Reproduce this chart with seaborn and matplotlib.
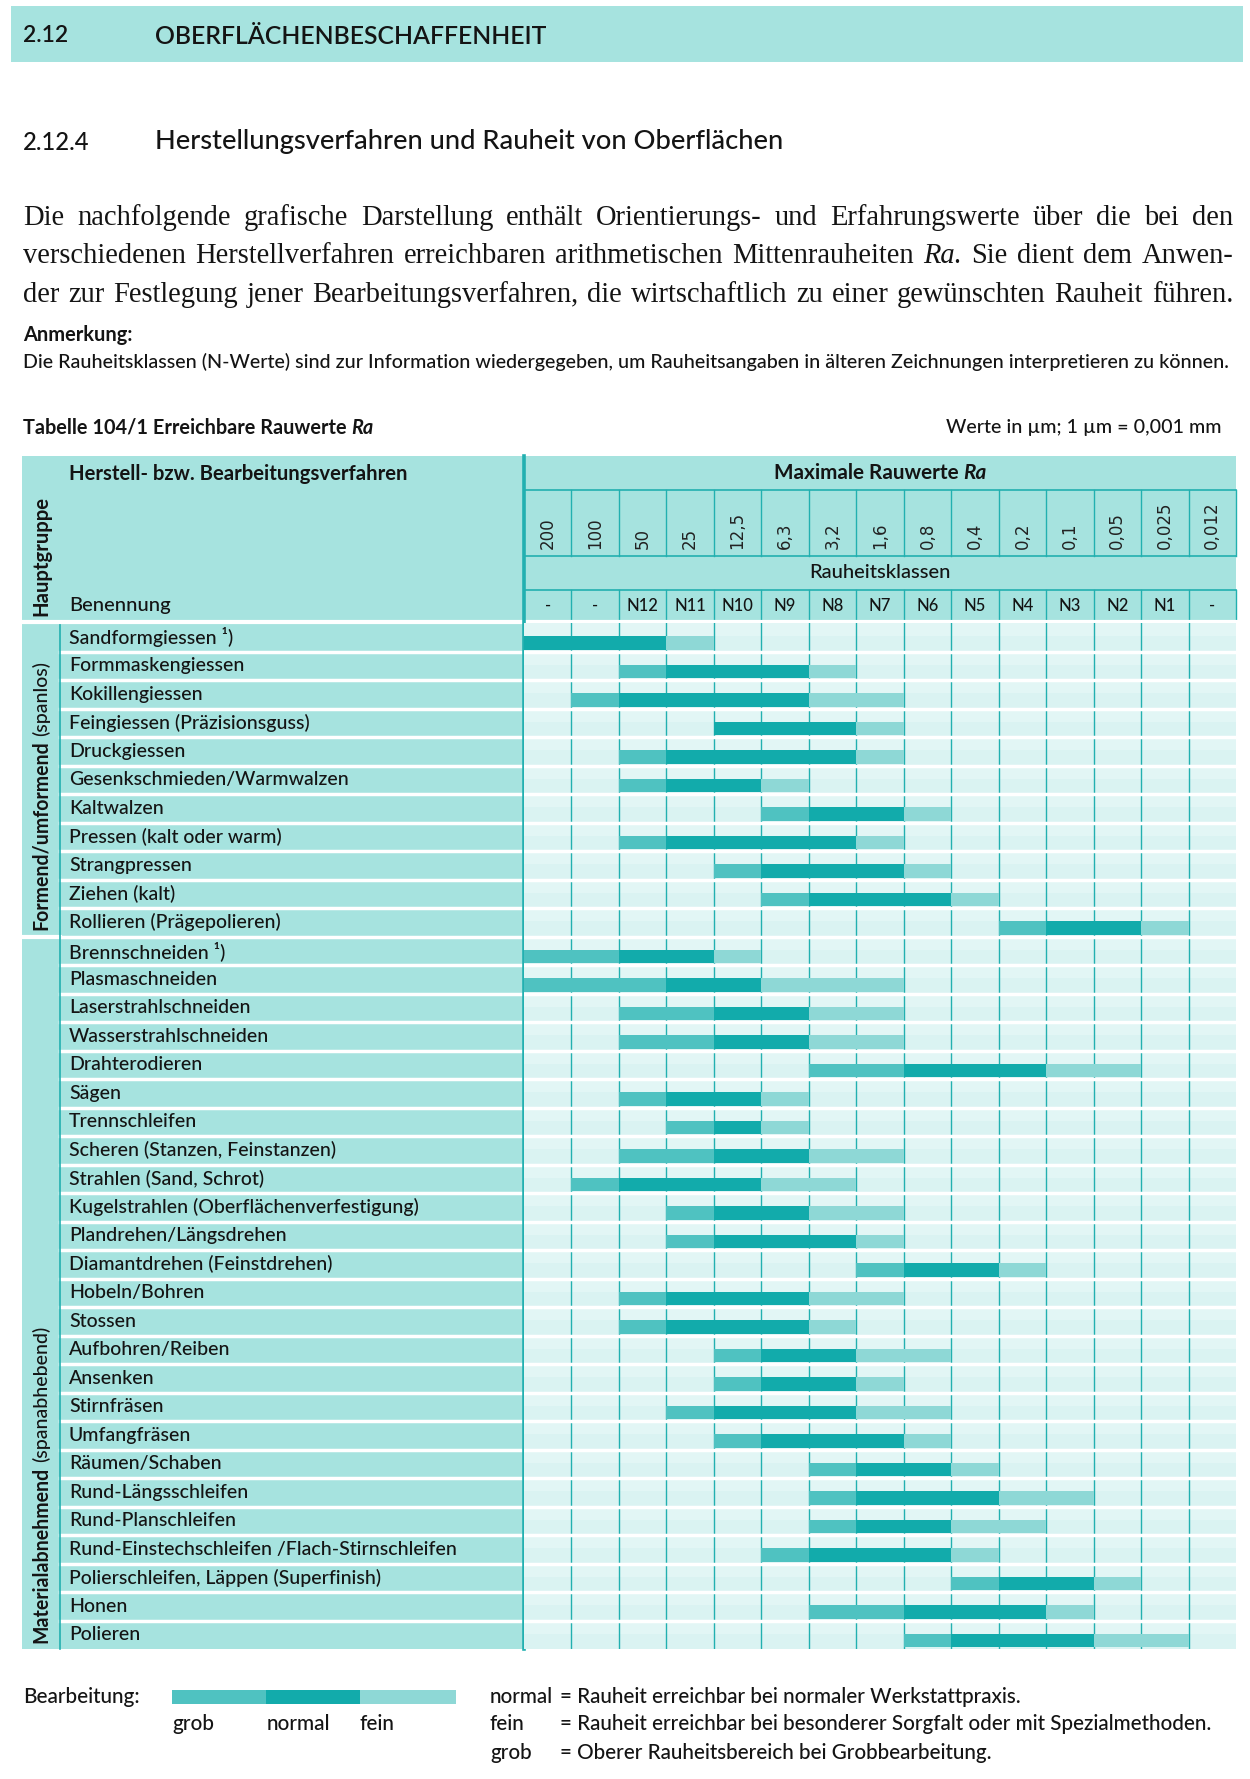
import numpy as np
import pandas as pd
import matplotlib
matplotlib.use('Agg')
import matplotlib.pyplot as plt
import matplotlib.transforms as mtransforms
from matplotlib.patches import Rectangle
import seaborn as sns

# Spalten: maximale Rauwerte Ra (µm) und Rauheitsklassen
ra_werte = ['200', '100', '50', '25', '12,5', '6,3', '3,2', '1,6', '0,8', '0,4',
            '0,2', '0,1', '0,05', '0,025', '0,012']
n_klassen = ['-', '-', 'N12', 'N11', 'N10', 'N9', 'N8', 'N7', 'N6', 'N5',
             'N4', 'N3', 'N2', 'N1', '-']

verfahren = [
    'Sandformgiessen ¹)', 'Formmaskengiessen', 'Kokillengiessen',
    'Feingiessen (Präzisionsguss)', 'Druckgiessen', 'Gesenkschmieden/Warmwalzen',
    'Kaltwalzen', 'Pressen (kalt oder warm)', 'Strangpressen', 'Ziehen (kalt)',
    'Rollieren (Prägepolieren)',
    'Brennschneiden ¹)', 'Plasmaschneiden', 'Laserstrahlschneiden',
    'Wasserstrahlschneiden', 'Drahterodieren', 'Sägen', 'Trennschleifen',
    'Scheren (Stanzen, Feinstanzen)', 'Strahlen (Sand, Schrot)',
    'Kugelstrahlen (Oberflächenverfestigung)', 'Plandrehen/Längsdrehen',
    'Diamantdrehen (Feinstdrehen)', 'Hobeln/Bohren', 'Stossen',
    'Aufbohren/Reiben', 'Ansenken', 'Stirnfräsen', 'Umfangfräsen',
    'Räumen/Schaben', 'Rund-Längsschleifen', 'Rund-Planschleifen',
    'Rund-Einstechschleifen /Flach-Stirnschleifen',
    'Polierschleifen, Läppen (Superfinish)', 'Honen', 'Polieren',
]

# Hauptgruppen (Anzahl Zeilen je Gruppe)
gruppen = ['Formend/umformend', 'Materialabnehmend']
gruppen_zusatz = ['(spanlos)', '(spanabhebend)']
gruppen_anzahl = [11, 25]

# Bereiche als Spaltenindex (0 = Spalte "200", 15 = rechter Rand)
grob_von = [0, 2, 1, 4, 2, 2, 5, 2, 4, 5, 10,
            0, 0, 2, 2, 6, 2, 3, 2, 1, 3, 3, 7, 2, 2, 4, 4, 3, 4, 6, 6, 6, 5, 9, 6, 8]
normal_von = [0, 3, 2, 4, 3, 3, 6, 3, 5, 6, 11,
              2, 3, 4, 4, 8, 3, 4, 4, 2, 4, 4, 8, 3, 3, 5, 5, 4, 5, 7, 7, 7, 6, 10, 8, 9]
fein_von = [3, 6, 6, 7, 7, 5, 8, 7, 8, 9, 13,
            4, 5, 6, 6, 11, 5, 5, 6, 5, 6, 7, 10, 6, 6, 7, 7, 7, 8, 9, 10, 9, 9, 12, 11, 12]
fein_bis = [4, 7, 8, 8, 8, 6, 9, 8, 9, 10, 14,
            5, 8, 8, 8, 13, 6, 6, 8, 7, 8, 8, 11, 8, 7, 9, 8, 9, 9, 10, 12, 11, 10, 13, 12, 14]

# Farben
C_MID = '#a6e3df'
C_LIGHT = '#daf3f2'
C_LIGHT_TOP = '#e2f6f5'
C_NORMAL = '#12abab'
C_GROB = '#4fc2c1'
C_FEIN = '#8ed8d6'
C_LINE = '#22b0b0'
C_TEXT = '#141414'

SANS = ['Lato', 'Open Sans', 'DejaVu Sans']
SERIF = ['Liberation Serif', 'DejaVu Serif']
plt.rcParams['font.family'] = SANS
plt.rcParams['text.color'] = C_TEXT

W, H = 1250, 1779
fig = plt.figure(figsize=(W / 100, H / 100), dpi=100)
fig.patch.set_facecolor('white')
bg = fig.add_axes([0, 0, 1, 1])
bg.set_xlim(0, W)
bg.set_ylim(H, 0)
bg.axis('off')
renderer = fig.canvas.get_renderer()

# Raster der Rauwerte
GX0, GX1 = 524, 1236
GY0, GY1 = 623, 1649
TY0 = 456
n = len(verfahren)
ax = fig.add_axes([GX0 / W, 1 - GY1 / H, (GX1 - GX0) / W, (GY1 - GY0) / H])

BAR_H = 0.47
OFF = 0.705  # Abstand Balkenmitte -> Zeilenoberkante

df = pd.DataFrame({
    'verfahren': verfahren,
    'grob_von': grob_von, 'normal_von': normal_von,
    'fein_von': fein_von, 'fein_bis': fein_bis,
})
df['grob'] = df['normal_von'] - df['grob_von']
df['normal'] = df['fein_von'] - df['normal_von']
df['fein'] = df['fein_bis'] - df['fein_von']

for seg, start, color in [('grob', 'grob_von', C_GROB),
                          ('normal', 'normal_von', C_NORMAL),
                          ('fein', 'fein_von', C_FEIN)]:
    sns.barplot(data=df, x=seg, y='verfahren', order=verfahren, orient='h',
                left=df[start].to_numpy(), width=BAR_H, color=color,
                saturation=1, errorbar=None, linewidth=0, zorder=3, ax=ax)

ax.set_xlim(0, 15)
ax.set_ylim(n - OFF, -OFF)
ax.set_facecolor(C_LIGHT)
ax.set_xlabel('')
ax.set_ylabel('')
ax.tick_params(left=False, bottom=False, labelleft=False, labelbottom=False)
for s in ax.spines.values():
    s.set_visible(False)
for i in range(n):
    ax.axhspan(i - OFF, i - BAR_H / 2, color=C_LIGHT_TOP, lw=0, zorder=0.5)
for k in range(1, 15):
    ax.axvline(k, color=C_LINE, lw=1.0, zorder=1)
for i in range(1, n):
    ax.axhline(i - OFF, color='white', lw=2.5, zorder=2)

blend_px_row = mtransforms.blended_transform_factory(bg.transData, ax.transData)
blend_col_px = mtransforms.blended_transform_factory(ax.transData, bg.transData)


def fit(t, target, dim='w'):
    ext = t.get_window_extent(renderer)
    cur = ext.width if dim == 'w' else ext.height
    t.set_fontsize(t.get_fontsize() * target / cur)
    return t


def extent(t, dim='w'):
    ext = t.get_window_extent(renderer)
    return ext.width if dim == 'w' else ext.height


# Kopfzeile der Seite
bg.add_patch(Rectangle((11, 6), 1232, 56, color=C_MID, lw=0))
fit(bg.text(23, 36, '2.12', va='center', fontweight='semibold', fontsize=18), 45)
fit(bg.text(155, 36, 'OBERFLÄCHENBESCHAFFENHEIT', va='center',
            fontweight='semibold', fontsize=18), 391)

fit(bg.text(23, 142, '2.12.4', va='center', fontweight='medium', fontsize=16), 66)
fit(bg.text(155, 142, 'Herstellungsverfahren und Rauheit von Oberflächen',
            va='center', fontweight='medium', fontsize=16), 630)

# Absatz (Blocksatz)
absatz = [
    'Die nachfolgende grafische Darstellung enthält Orientierungs- und Erfahrungswerte über die bei den',
    'verschiedenen Herstellverfahren erreichbaren arithmetischen Mittenrauheiten Ra. Sie dient dem Anwen-',
    'der zur Festlegung jener Bearbeitungsverfahren, die wirtschaftlich zu einer gewünschten Rauheit führen.',
]
absatz_y = [218, 256, 295]
PX0, PX1 = 23, 1233
sizes = []
for line in absatz:
    t = bg.text(0, 0, line, family=SERIF, fontsize=18)
    sizes.append(18 * (PX1 - PX0) * 0.99 / extent(t))
    t.remove()
p_fs = min(sizes)
for line, y in zip(absatz, absatz_y):
    words = line.split(' ')
    texts = [bg.text(0, y, w, family=SERIF, fontsize=p_fs, va='center',
                     style='italic' if w == 'Ra.' else 'normal') for w in words]
    widths = [extent(t) for t in texts]
    gap = (PX1 - PX0 - sum(widths)) / (len(words) - 1)
    x = PX0
    for t, w in zip(texts, widths):
        t.set_x(x)
        x += w + gap

fit(bg.text(23, 335, 'Anmerkung:', va='center', fontweight='bold', fontsize=13), 109)
fit(bg.text(23, 362, 'Die Rauheitsklassen (N-Werte) sind zur Information wiedergegeben, '
            'um Rauheitsangaben in älteren Zeichnungen interpretieren zu können.',
            va='center', fontweight='medium', fontsize=13), 1204)

# Tabellentitel
t1 = bg.text(23, 428, 'Tabelle 104/1 Erreichbare Rauwerte ', va='center',
             fontweight='bold', fontsize=13)
t2 = bg.text(0, 428, 'Ra', va='center', fontweight='bold', style='italic', fontsize=13)
scale = 348 / (extent(t1) + extent(t2))
for t in (t1, t2):
    t.set_fontsize(13 * scale)
t2.set_x(23 + extent(t1))
fit(bg.text(1222, 428, 'Werte in µm; 1 µm = 0,001 mm', va='center', ha='right',
            fontweight='medium', fontsize=13), 274)

# Tabellenhintergrund
bg.add_patch(Rectangle((22, TY0), GX0 - 22, GY1 - TY0, color=C_MID, lw=0))
bg.add_patch(Rectangle((GX0, TY0), GX1 - GX0, GY0 - TY0, color=C_MID, lw=0))
bg.plot([22, GX1], [GY0 - 1, GY0 - 1], color='white', lw=3, zorder=3)
for i in range(1, n):
    bg.plot([60, GX0], [i - OFF, i - OFF], transform=blend_px_row, color='white', lw=2.5)
gy = 0
for cnt in gruppen_anzahl[:-1]:
    gy += cnt
    bg.plot([22, 60], [gy - OFF, gy - OFF], transform=blend_px_row, color='white', lw=3)
bg.plot([60, 60], [GY0, GY1], color=C_LINE, lw=1.2)
bg.plot([GX0, GX0], [TY0, GY1], color=C_LINE, lw=2.6, zorder=4)

# Kopf rechts
for yy in (490, 556, 590):
    bg.plot([GX0, GX1], [yy, yy], color=C_LINE, lw=1.2)
for k in range(1, 16):
    bg.plot([k, k], [490, 556], transform=blend_col_px, color=C_LINE, lw=1.0)
    bg.plot([k, k], [590, GY0 - 2], transform=blend_col_px, color=C_LINE, lw=1.0)
for k, v in enumerate(ra_werte):
    bg.text(k + 0.5, 549, v, transform=blend_col_px, rotation=90,
            rotation_mode='anchor', ha='left', va='center',
            family='DejaVu Sans', fontsize=12, color='#222222')
ref_n = bg.text(0, 0, 'N12', fontweight='medium', fontsize=13)
n_fs = fit(ref_n, 32).get_fontsize()
ref_n.remove()
for k, lab in enumerate(n_klassen):
    bg.text(k + 0.5, 606, lab, transform=blend_col_px, ha='center', va='center',
            fontweight='medium', fontsize=n_fs)

m1 = bg.text(0, 473, 'Maximale Rauwerte ', va='center', fontweight='bold', fontsize=13)
m2 = bg.text(0, 473, 'Ra', va='center', fontweight='bold', style='italic', fontsize=13)
scale = 213 / (extent(m1) + extent(m2))
for t in (m1, m2):
    t.set_fontsize(13 * scale)
mx = (GX0 + GX1) / 2 - (extent(m1) + extent(m2)) / 2
m1.set_x(mx)
m2.set_x(mx + extent(m1))
fit(bg.text((GX0 + GX1) / 2, 573, 'Rauheitsklassen', ha='center', va='center',
            fontweight='medium', fontsize=13), 142)

# Kopf links
fit(bg.text(69, 474, 'Herstell- bzw. Bearbeitungsverfahren', va='center',
            fontweight='bold', fontsize=13), 337)
fit(bg.text(69, 606, 'Benennung', va='center', fontweight='medium', fontsize=13), 102)
fit(bg.text(41, 616, 'Hauptgruppe', rotation=90, rotation_mode='anchor',
            ha='left', va='center', fontweight='bold', fontsize=12), 120, 'h')

# Zeilenbeschriftung
ref = bg.text(0, 0, 'Gesenkschmieden/Warmwalzen', fontweight='medium', fontsize=13)
lab_fs = fit(ref, 280).get_fontsize()
ref.remove()
for i, name in enumerate(verfahren):
    bg.text(69, i - OFF + 0.5, name, transform=blend_px_row, va='center',
            fontweight='medium', fontsize=lab_fs)

# Hauptgruppen (senkrecht)
row_px = (GY1 - GY0) / n
gend = 0
for name, zusatz, cnt in zip(gruppen, gruppen_zusatz, gruppen_anzahl):
    gend += cnt
    yb = GY0 + gend * row_px - 6
    tb = bg.text(41, yb, name, rotation=90, rotation_mode='anchor', ha='left',
                 va='center', fontweight='bold', fontsize=lab_fs)
    lb = extent(tb, 'h')
    bg.text(41, yb - lb - 5, zusatz, rotation=90, rotation_mode='anchor',
            ha='left', va='center', fontweight='medium', fontsize=lab_fs)

# Legende
LY = 1697
leg_fs = fit(bg.text(23, LY, 'Bearbeitung:', va='center', fontweight='medium',
                     fontsize=13), 117).get_fontsize()
bx = [172, 266, 360, 456]
for (x0, x1), c in zip(zip(bx[:-1], bx[1:]), [C_GROB, C_NORMAL, C_FEIN]):
    bg.add_patch(Rectangle((x0, LY - 7), x1 - x0, 14, color=c, lw=0))
for x, lab in zip([172, 267, 360], ['grob', 'normal', 'fein']):
    bg.text(x, 1724, lab, va='center', fontweight='medium', fontsize=leg_fs)

erkl_lab = ['normal', 'fein', 'grob']
erkl_txt = ['= Rauheit erreichbar bei normaler Werkstattpraxis.',
            '= Rauheit erreichbar bei besonderer Sorgfalt oder mit Spezialmethoden.',
            '= Oberer Rauheitsbereich bei Grobbearbeitung.']
ref = bg.text(560, 0, erkl_txt[1], fontweight='medium', fontsize=13)
e_fs = fit(ref, 650).get_fontsize()
ref.remove()
for lab, txt, y in zip(erkl_lab, erkl_txt, [1697, 1724, 1753]):
    bg.text(490, y, lab, va='center', fontweight='medium', fontsize=e_fs)
    bg.text(560, y, txt, va='center', fontweight='medium', fontsize=e_fs)

fig.savefig('out.png', dpi=100, facecolor='white')
